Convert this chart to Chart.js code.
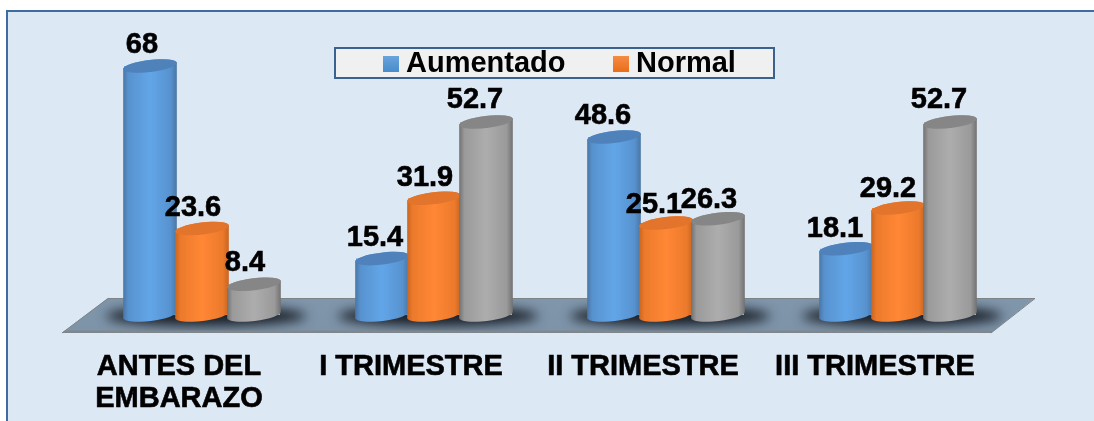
<!DOCTYPE html>
<html>
<head>
<meta charset="utf-8">
<style>html,body{margin:0;padding:0;background:#fff}canvas{display:block}</style>
<script src="https://cdn.jsdelivr.net/npm/chart.js@4"></script>
</head>
<body>
<div style="width:1094px;height:421px"><canvas id="c" width="1094" height="421"></canvas></div>
<script>
const categories = [['ANTES DEL', 'EMBARAZO'], 'I TRIMESTRE', 'II TRIMESTRE', 'III TRIMESTRE'];
const aumentado = [68, 15.4, 48.6, 18.1];
const normal = [23.6, 31.9, 25.1, 29.2];
const tercera = [8.4, 52.7, 26.3, 52.7];

const palette = [
  {edge:'#4a75a3', shoulder:'#5792cf', mid:'#62a6e8', cap:'#4f82ba', swatchA:'#6ba5de', swatchB:'#4a8ccb'},
  {edge:'#c8641f', shoulder:'#ec7a2c', mid:'#ff8735', cap:'#e2742c', swatchA:'#f68c45', swatchB:'#e96f1c'},
  {edge:'#707070', shoulder:'#9a9a9a', mid:'#adadad', cap:'#868686', swatchA:'#aaa', swatchB:'#888'}
];
const labelShiftX = [[-8,-7,-11,-11],[-9,-9,-12,-10],[-9,-11,-9,-11]];
const labelShiftY = [[-21,-21,-21,-20],[-21,-20,-18,-19],[-21,-22,-19,-22]];

function swatch(p){
  const s=document.createElement('canvas'); s.width=16; s.height=16;
  const g=s.getContext('2d'), l=g.createLinearGradient(0,0,0,16);
  l.addColorStop(0,p.swatchA); l.addColorStop(1,p.swatchB);
  g.fillStyle=l; g.fillRect(0,0,16,16); return s;
}

const TILT=-0.12, RY=6;
const cylinderPlugin={
  id:'cylinders',
  beforeDraw(chart){
    const c=chart.ctx;
    c.save();
    c.fillStyle='#dde8f5'; c.fillRect(6,10,1088,411);
    c.strokeStyle='#3f6c9e'; c.lineWidth=2;
    c.beginPath(); c.moveTo(7,421); c.lineTo(7,11); c.lineTo(1094,11); c.stroke();
    // legend frame
    c.fillStyle='#f0f0f0'; c.fillRect(335,48,439,30);
    c.strokeStyle='#3a628f'; c.lineWidth=2; c.strokeRect(335,48,439,30);
    // floor
    const f=new Path2D(); f.moveTo(108,298); f.lineTo(1035,298); f.lineTo(991,333); f.lineTo(62,333); f.closePath();
    const fg=c.createLinearGradient(0,298,0,333); fg.addColorStop(0,'#8096ab'); fg.addColorStop(1,'#7d93a8');
    c.fillStyle=fg; c.fill(f);
    c.save(); c.clip(f);
    const m0=chart.getDatasetMeta(1).data;
    c.filter='blur(6px)'; c.fillStyle='rgba(20,24,32,0.95)';
    m0.forEach(el=>{ c.beginPath(); c.ellipse(el.x+4,316,100,10,0,0,Math.PI*2); c.fill(); });
    c.filter='none';
    c.restore();
    c.fillStyle='#80878c'; c.beginPath(); c.moveTo(62,333); c.lineTo(991,333); c.lineTo(993.5,330.5); c.lineTo(65,330.5); c.closePath(); c.fill();
    c.strokeStyle='#7d8488'; c.lineWidth=1; c.beginPath(); c.moveTo(108,298.5); c.lineTo(1035,298.5); c.lineTo(991,333); c.stroke();
    c.beginPath(); c.moveTo(108,298.5); c.lineTo(62,333); c.stroke();
    c.restore();
  },
  afterDatasetsDraw(chart){
    const c=chart.ctx;
    c.save();
    [0,1,2].forEach(d=>{
      chart.getDatasetMeta(d).data.forEach(el=>{
        const p=palette[d], r=(el.width+2)/2, x=el.x, yt=el.y, yb=el.base;
        const dx=r*Math.cos(TILT), dy=r*Math.sin(TILT);
        const g=c.createLinearGradient(x-r,0,x+r,0);
        g.addColorStop(0,p.edge); g.addColorStop(0.1,p.shoulder);
        g.addColorStop(0.5,p.mid); g.addColorStop(0.88,p.shoulder); g.addColorStop(1,p.edge);
        c.fillStyle=g;
        c.beginPath();
        c.moveTo(x-dx,yt-dy);
        c.lineTo(x-dx,yb-dy);
        c.ellipse(x,yb,r,RY,TILT,Math.PI,0,true);
        c.lineTo(x+dx,yt+dy);
        c.ellipse(x,yt,r,RY,TILT,0,-Math.PI,true);
        c.closePath(); c.fill();
        c.fillStyle=p.cap;
        c.beginPath(); c.ellipse(x,yt,r,RY,TILT,0,Math.PI*2); c.fill();
      });
    });
    c.fillStyle='#000'; c.strokeStyle='#000'; c.lineWidth=0.6;
    c.font='bold 29px "Liberation Sans", Arial, sans-serif';
    c.textAlign='center'; c.textBaseline='middle';
    [0,1,2].forEach(d=>{
      const ds=chart.data.datasets[d];
      chart.getDatasetMeta(d).data.forEach((el,i)=>{
        const tx=el.x+labelShiftX[d][i], ty=el.y+labelShiftY[d][i];
        c.fillText(String(ds.data[i]), tx, ty);
        c.strokeText(String(ds.data[i]), tx, ty);
      });
    });
    c.restore();
  },
  afterUpdate(chart){
    const l=chart.legend;
    l.left=335.5; l.right=800; l.top=-6; l.bottom=120;
  }
};

new Chart(document.getElementById('c'),{
  type:'bar',
  data:{labels:categories,datasets:[
    {label:'Aumentado',data:aumentado,backgroundColor:palette[0].mid},
    {label:'Normal',data:normal,backgroundColor:palette[1].mid},
    {label:'Otro',data:tercera,backgroundColor:palette[2].mid}
  ]},
  options:{
    responsive:false,animation:false,
    layout:{padding:{left:86,right:80,top:21,bottom:0}},
    datasets:{bar:{categoryPercentage:156/232,barPercentage:1}},
    scales:{
      x:{grid:{display:false},border:{display:false},
        afterFit(s){s.height=106;},
        ticks:{color:'#000',font:{family:'"Liberation Sans", Arial, sans-serif',size:29,weight:'bold',lineHeight:1.1},
          textStrokeColor:'#000',textStrokeWidth:0.6,
          padding:28,labelOffset:-23,autoSkip:false,maxRotation:0,minRotation:0}},
      y:{display:false,min:0,max:80}
    },
    plugins:{
      tooltip:{enabled:false},
      legend:{display:true,position:'top',align:'start',maxHeight:1,
        labels:{usePointStyle:true,boxWidth:1,boxHeight:9,padding:55,color:'#000',
          font:{family:'"Liberation Sans", Arial, sans-serif',size:29,weight:'bold'},
          generateLabels(ch){return ch.data.datasets.slice(0,2).map((d,i)=>({text:d.label,datasetIndex:i,hidden:false,lineWidth:0,fontColor:'#000',pointStyle:swatch(palette[i])}));}
        }}
    }
  },
  plugins:[cylinderPlugin]
});
</script>
</body>
</html>
